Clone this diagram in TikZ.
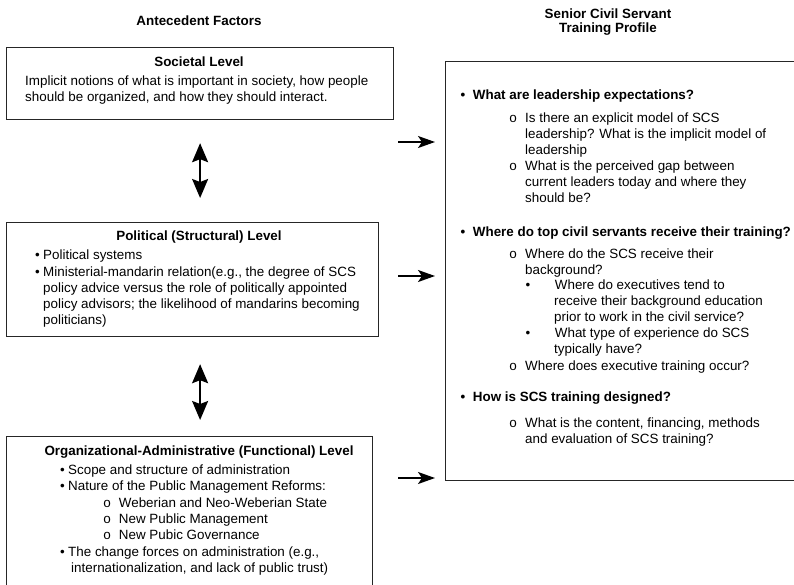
\documentclass[tikz,border=0pt]{standalone}
\usepackage{fontspec}
\setmainfont{Liberation Sans}
\newfontfamily\circfont{Liberation Mono}
\usetikzlibrary{arrows.meta}
\tikzstyle{level}=[draw=black!85,line width=1.2pt,anchor=north west,inner sep=0pt]
\tikzstyle{txt}=[anchor=base west,inner sep=0pt,font=\fontsize{13.4}{16.3}\selectfont]
\tikzstyle{btxt}=[txt,font=\fontsize{13.4}{16.3}\selectfont\bfseries]
\tikzstyle{head}=[anchor=base,inner sep=0pt,font=\fontsize{13.4}{14.5}\selectfont\bfseries]
\tikzstyle{both}=[line width=1.8pt,{Stealth[length=19pt,width=16pt,inset=3pt]}-{Stealth[length=19pt,width=16pt,inset=3pt]}]
\tikzstyle{feed}=[line width=1.5pt,-{Stealth[length=17pt,width=12pt,inset=4pt]}]
\newcommand{\dotb}[1][3.5pt]{\llap{•\hspace{#1}}}
\newcommand{\ringb}[1][8pt]{\llap{{\circfont o}\hspace{#1}}}
% stacked lines, baseline on the first one
\newcommand{\rows}[1]{\begin{tabular}[t]{@{}l@{}}#1\end{tabular}}
\newcommand{\crows}[1]{\begin{tabular}[t]{@{}c@{}}#1\end{tabular}}

\begin{document}
\begin{tikzpicture}[x=1pt,y=-1pt]
  \clip (0,0) rectangle (794,584);

  % column titles
  \node[head] (ante) at (199,25) {Antecedent Factors};
  \node[head] (scs) at (608,18) {\crows{Senior Civil Servant\\Training Profile}};

  % antecedent levels
  \node[level,minimum width=387pt,minimum height=72pt] (soc) at (6,47) {};
  \node[level,minimum width=372pt,minimum height=114pt] (pol) at (6,222) {};
  \node[level,minimum width=366pt,minimum height=170pt] (org) at (6,436) {};
  \node[level,minimum width=370pt,minimum height=419pt] (prof) at (445,61) {};

  \node[head] (soct) at (199,66) {Societal Level};
  \node[txt] (soc1) at (25,85) {\rows{Implicit notions of what is important in society, how people\\should be organized, and how they should interact.}};

  \node[head] (polt) at (199,240) {Political (Structural) Level};
  \node[txt] (pol1) at (43,259) {\dotb Political systems};
  \node[txt] (pol2) at (43,276) {\rows{\dotb Ministerial-mandarin relation(e.g., the degree of SCS\\policy advice versus the role of politically appointed\\policy advisors; the likelihood of mandarins becoming\\politicians)}};

  \node[head] (orgt) at (199,455) {Organizational-Administrative (Functional) Level};
  \node[txt] (org1) at (68,474) {\dotb Scope and structure of administration};
  \node[txt] (org2) at (68,490) {\dotb Nature of the Public Management Reforms:};
  \node[txt] (org3) at (115,507) {\rows{\ringb[4pt] Weberian and Neo-Weberian State\\\ringb[4pt] New Public Management\\\ringb[4pt] New Pubic Governance}};
  \node[txt] (org4) at (68,556) {\rows{\dotb The change forces on administration (e.g.,\\\hspace*{3pt}internationalization, and lack of public trust)}};

  % training profile
  \node[btxt] (q1) at (469,99) {\dotb[4pt] What are leadership expectations?};
  \node[txt] (q1a) at (525,122) {\rows{\ringb Is there an explicit model of SCS\\leadership? What is the implicit model of\\leadership}};
  \node[txt] (q1b) at (525,170) {\rows{\ringb What is the perceived gap between\\current leaders today and where they\\should be?}};
  \node[btxt] (q2) at (469,236) {\dotb[4pt] Where do top civil servants receive their training?};
  \node[txt] (q2a) at (525,258) {\rows{\ringb Where do the SCS receive their\\background?}};
  \node[txt] (q2b) at (551,289) {\rows{\dotb[21pt] Where do executives tend to\\\hspace*{3pt}receive their background education\\\hspace*{3pt}prior to work in the civil service?}};
  \node[txt] (q2c) at (551,337) {\rows{\dotb[21pt] What type of experience do SCS\\\hspace*{3pt}typically have?}};
  \node[txt] (q2d) at (525,370) {\ringb Where does executive training occur?};
  \node[btxt] (q3) at (469,401) {\dotb[4pt] How is SCS training designed?};
  \node[txt] (q3a) at (525,427) {\rows{\ringb What is the content, financing, methods\\and evaluation of SCS training?}};

  % connectors
  \draw[both,shorten <=23pt,shorten >=24pt] (soc.south) -- (soc.south |- pol.north);
  \draw[both,shorten <=27pt,shorten >=16pt] (soc.south |- pol.south) -- (soc.south |- org.north);
  \coordinate (f1) at (398,142);
  \coordinate (f2) at (398,276);
  \coordinate (f3) at (398,478);
  \draw[feed,shorten >=10pt] (f1) -- (f1 -| prof.west);
  \draw[feed,shorten >=10pt] (f2) -- (f2 -| prof.west);
  \draw[feed,shorten >=10pt] (f3) -- (f3 -| prof.west);
\end{tikzpicture}
\end{document}
